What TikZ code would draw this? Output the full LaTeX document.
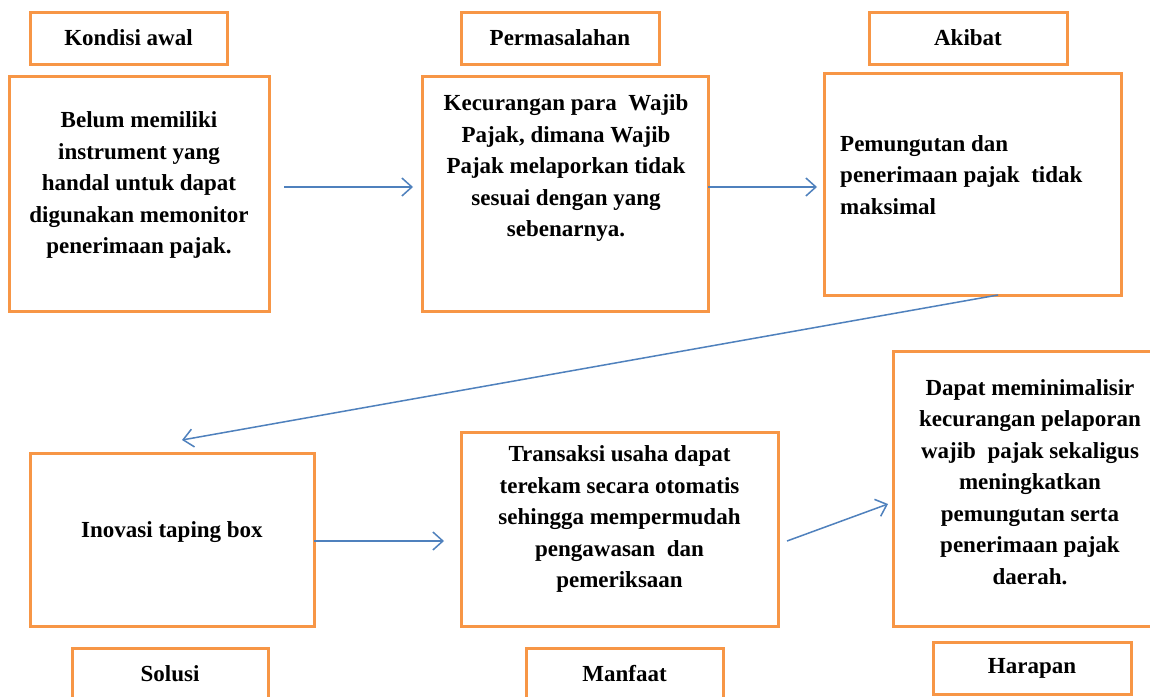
\documentclass[tikz,border=0pt]{standalone}
\usepackage{fontspec}
\setmainfont{Liberation Serif}
\usetikzlibrary{arrows.meta}
\definecolor{boxorange}{HTML}{F79646}
\definecolor{arrowblue}{HTML}{4F81BD}
\begin{document}
\begin{tikzpicture}[x=1pt,y=-1pt,
  frame/.style={draw=boxorange, line width=3pt, inner sep=0pt},
  txt/.style={font=\fontsize{23}{31.5}\selectfont\bfseries, align=center, inner sep=0pt},
  conn/.style={draw=arrowblue, line width=1.5pt, -{Straight Barb[length=10pt,width=18pt]}}]
\useasboundingbox (0,0) rectangle (1150,696);
\clip (0,0) rectangle (1150,696);
\fill[white] (0,0) rectangle (1150,696);
% labels
\node[frame, txt, minimum width=197pt, minimum height=52pt] (l1) at (128.5,38) {Kondisi awal};
\node[frame, txt, minimum width=198pt, minimum height=52pt] (l2) at (560,38) {Permasalahan};
\node[frame, txt, minimum width=198pt, minimum height=52pt] (l3) at (968,38) {Akibat};
\node[frame, txt, minimum width=196pt, minimum height=52pt] (l4) at (170,674) {Solusi};
\node[frame, txt, minimum width=197pt, minimum height=52pt] (l5) at (624.5,674) {Manfaat};
\node[frame, txt, minimum width=198pt, minimum height=52pt] (l6) at (1032,668) {Harapan};
% main boxes
\node[frame, minimum width=260pt, minimum height=235pt] (b1) at (139,193.5) {};
\node[frame, minimum width=286pt, minimum height=235pt] (b2) at (565,193.5) {};
\node[frame, minimum width=297pt, minimum height=222pt] (b3) at (972.5,184) {};
\node[frame, minimum width=284pt, minimum height=173pt] (b4) at (172,539.5) {};
\node[frame, minimum width=317pt, minimum height=194pt] (b5) at (619.5,529) {};
\node[frame, minimum width=274pt, minimum height=275pt] (b6) at (1030,488.5) {};
% texts
\node[txt] (t1) at (139,185) {Belum memiliki\\instrument yang\\handal untuk dapat\\digunakan memonitor\\penerimaan pajak.};
\node[txt] (t2) at (566,168) {Kecurangan para~ Wajib\\Pajak, dimana Wajib\\Pajak melaporkan tidak\\sesuai dengan yang\\sebenarnya.};
\node[txt, align=left, anchor=west] (t3) at (840,175) {Pemungutan dan\\penerimaan pajak~ tidak\\maksimal};
\node[txt] (t4) at (172,532) {Inovasi taping box};
\node[txt] (t5) at (619.5,519) {Transaksi usaha dapat\\terekam secara otomatis\\sehingga mempermudah\\pengawasan~ dan\\pemeriksaan};
\node[txt] (t6) at (1030,482) {Dapat meminimalisir\\kecurangan pelaporan\\wajib~ pajak sekaligus\\meningkatkan\\pemungutan serta\\penerimaan pajak\\daerah.};
% connectors
\coordinate (a1s) at (284,187);
\coordinate (a1e) at (413,187);
\coordinate (a2s) at (708,187);
\coordinate (a2e) at (817,187);
\coordinate (a3s) at (998,295);
\coordinate (a3e) at (182,440);
\coordinate (a4s) at (314,541);
\coordinate (a4e) at (444,541);
\coordinate (a5s) at (787,541);
\coordinate (a5e) at (888,504);
\draw[conn] (a1s) -- (a1e);
\draw[conn] (a2s) -- (a2e);
\draw[conn] (a3s) -- (a3e);
\draw[conn] (a4s) -- (a4e);
\draw[conn] (a5s) -- (a5e);
\end{tikzpicture}
\end{document}
